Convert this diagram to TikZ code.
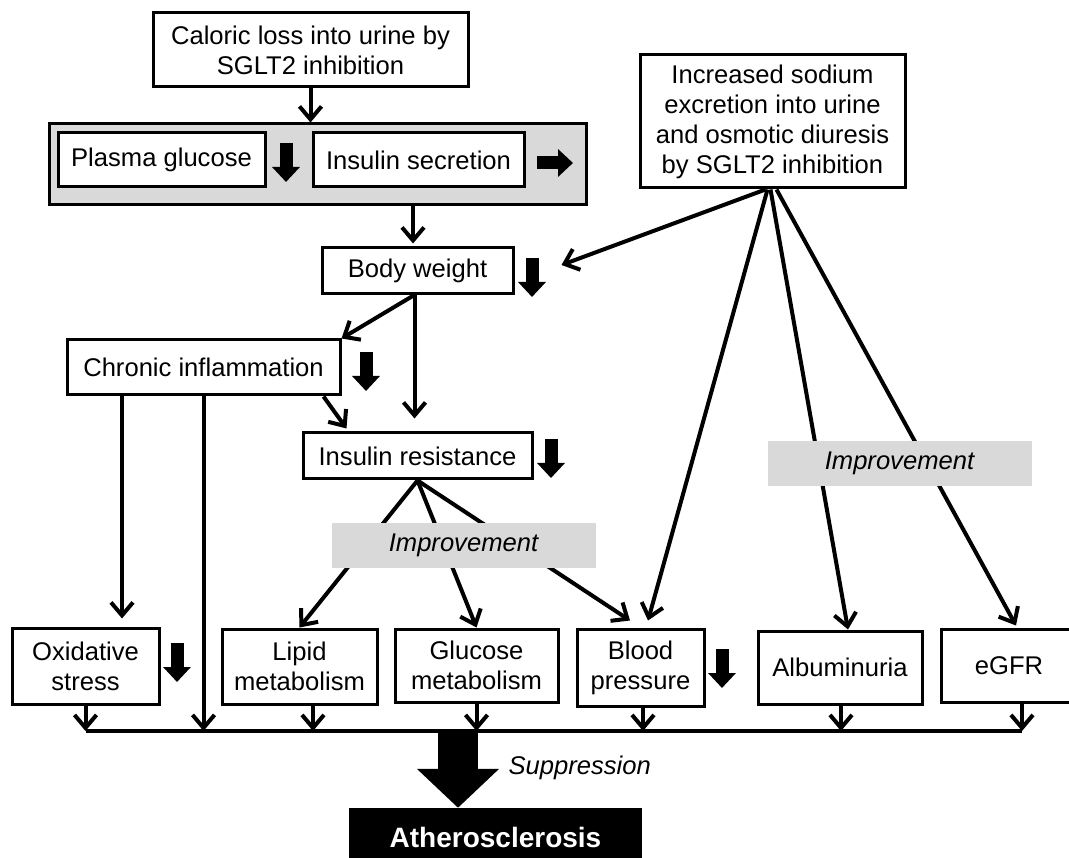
\documentclass[tikz,border=0pt]{standalone}
\usepackage{fontspec}
\setmainfont{Liberation Sans}
\usetikzlibrary{arrows.meta}
\definecolor{boxgray}{RGB}{217,217,217}
\begin{document}
\begin{tikzpicture}[x=1pt, y=-1pt,
    font=\fontsize{25.6}{30}\selectfont,
    box/.style={draw, line width=3pt, fill=white, align=center, inner sep=0pt},
    arr/.style={line width=4pt, -{Straight Barb[length=13pt,width=22pt]}},
    dn/.style={line width=13pt, -{Triangle[length=15pt,width=27pt]}},
    impbox/.style={fill=boxgray, inner sep=0pt, minimum width=264pt, minimum height=45pt, font=\fontsize{25.6}{30}\selectfont\itshape}]
    \clip (0,0) rectangle (1069,858);
    \node[box, minimum width=315pt, minimum height=74pt] (cal) at (310.5,50) {Caloric loss into urine by\\SGLT2 inhibition};
    \node[box, fill=boxgray, minimum width=537pt, minimum height=81pt] (grp) at (317.5,164.5) {};
    \node[box, minimum width=207pt, minimum height=54pt] (pg) at (161.5,160) {Plasma glucose};
    \node[box, minimum width=211pt, minimum height=54pt] (is) at (418.5,160) {Insulin secretion};
    \node[box, minimum width=265pt, minimum height=133pt] (sod) at (772.5,121.5) {Increased sodium\\excretion into urine\\and osmotic diuresis\\by SGLT2 inhibition};
    \node[box, minimum width=191pt, minimum height=46pt] (bw) at (417.5,271) {Body weight};
    \node[box, minimum width=273pt, minimum height=55pt] (chr) at (203.5,367.5) {Chronic inflammation};
    \node[box, minimum width=229pt, minimum height=46pt] (ir) at (417.5,456) {Insulin resistance};
    \node[box, minimum width=147pt, minimum height=76pt] (ox) at (85.5,666) {Oxidative\\stress};
    \node[box, minimum width=155pt, minimum height=75pt] (lip) at (299.5,666.5) {Lipid\\metabolism};
    \node[box, minimum width=163pt, minimum height=73pt] (glu) at (476.5,665.5) {Glucose\\metabolism};
    \node[box, minimum width=127pt, minimum height=77pt] (bp) at (640.5,667.5) {Blood\\pressure};
    \node[box, minimum width=164pt, minimum height=73pt] (alb) at (840,667.5) {Albuminuria};
    \node[box, minimum width=136pt, minimum height=73pt] (egfr) at (1009,665.5) {eGFR};
    \node[fill=black, text=white, inner sep=0pt, minimum width=293pt, minimum height=58pt, font=\fontsize{28}{30}\selectfont\bfseries] (ath) at (495.5,837) {Atherosclerosis};
    \coordinate (bl) at (86,731);
    \coordinate (br) at (1022,731);
    \coordinate (sp) at (458,731);

    \draw[arr] (cal.south) -- (cal.south |- grp.north);
    \draw[arr] ([xshift=-4.5pt]bw.north |- grp.south) -- ([xshift=-4.5pt,yshift=3pt]bw.north);
    \draw[arr] ([xshift=-7pt]sod.south) -- ([xshift=47pt,yshift=6pt]bw.east);
    \draw[arr] ([xshift=-4pt]bw.south) -- (chr.north east);
    \draw[arr] ([xshift=-3pt]bw.south) -- ([xshift=-3pt,yshift=13pt]ir.north);
    \draw[arr] ([xshift=-18pt]chr.south east) -- ([xshift=45pt,yshift=3pt]ir.north west);
    \draw[arr] ([xshift=-81.5pt]chr.south) -- ([xshift=36.5pt,yshift=8pt]ox.north);
    \draw[arr] (chr.south) -- (chr.south |- bl);
    \draw[arr] (ir.south) -- (lip.north);
    \draw[arr] (ir.south) -- (glu.north);
    \draw[arr] (ir.south) -- ([xshift=-10.5pt,yshift=7pt]bp.north);
    \draw[arr] ([xshift=-5pt]sod.south) -- ([xshift=7.5pt,yshift=7pt]bp.north);
    \draw[arr] ([xshift=-2pt]sod.south) -- ([xshift=8pt]alb.north);
    \draw[arr] ([xshift=4pt]sod.south) -- ([xshift=7pt,yshift=2pt]egfr.north);

    \draw[line width=4pt] (bl) -- (br);
    \draw[arr] (ox.south) -- (ox.south |- bl);
    \draw[arr] ([xshift=13.5pt]lip.south) -- ([xshift=13.5pt]lip.south |- bl);
    \draw[arr] (glu.south) -- (glu.south |- bl);
    \draw[arr] ([xshift=2.5pt]bp.south) -- ([xshift=2.5pt]bp.south |- bl);
    \draw[arr] ([xshift=1pt]alb.south) -- ([xshift=1pt]alb.south |- bl);
    \draw[arr] (egfr.south -| br) -- (br);

    \foreach \x/\y in {286/143, 532/258, 366/352, 551/439, 177/643, 722/649}
        \draw[dn] (\x,\y) -- ++(0,39);
    \draw[dn] (537,163) -- (573,163);

    \draw[line width=40pt, -{Triangle[length=39pt,width=80pt]}] (sp) -- (sp |- ath.north);
    \node[anchor=west, font=\fontsize{25.6}{30}\selectfont\itshape] (sup) at (505,768) {Suppression};

    \node[impbox] (imp1) at (463.5,545.5) {Improvement};
    \node[impbox] (imp2) at (899.5,463.5) {Improvement};
\end{tikzpicture}
\end{document}
